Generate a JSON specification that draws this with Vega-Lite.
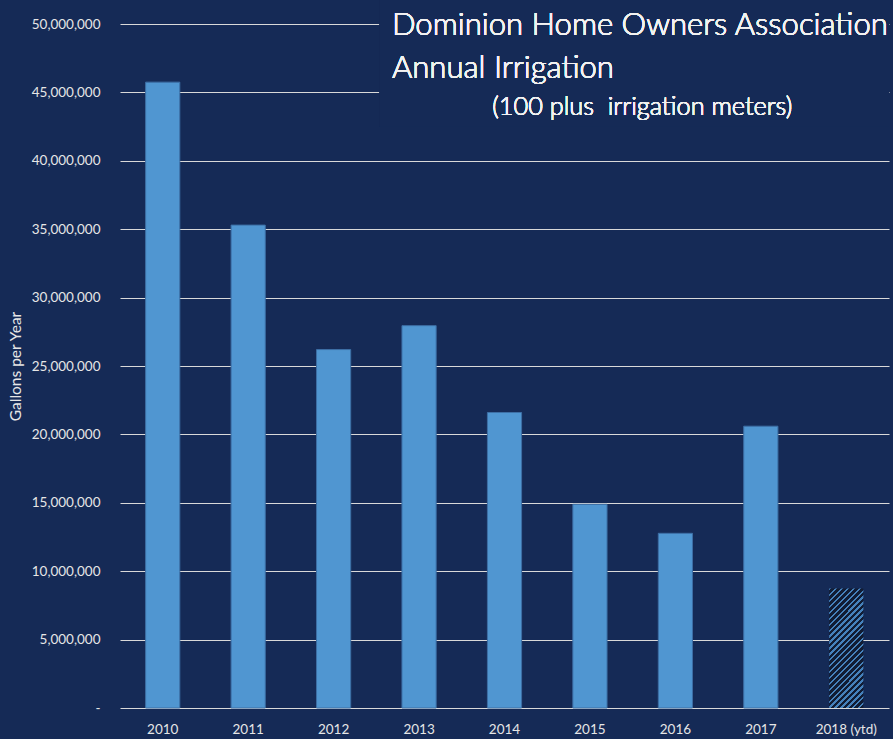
{
  "$schema": "https://vega.github.io/schema/vega-lite/v6.json",
  "width": 769,
  "height": 684,
  "autosize": {"type": "none"},
  "padding": {"left": 120, "top": 24, "right": 4, "bottom": 31},
  "background": "#152a56",
  "config": {"view": {"stroke": null}, "font": "Lato"},
  "data": {
    "values": [
      {"year": "2010", "gallons": 45750000},
      {"year": "2011", "gallons": 35300000},
      {"year": "2012", "gallons": 26200000},
      {"year": "2013", "gallons": 27950000},
      {"year": "2014", "gallons": 21600000},
      {"year": "2015", "gallons": 14890000},
      {"year": "2016", "gallons": 12770000},
      {"year": "2017", "gallons": 20600000},
      {"year": "2018 (ytd)", "gallons": 8740000}
    ]
  },
  "layer": [
    {
      "mark": {"type": "bar", "strokeWidth": 1},
      "encoding": {
        "x": {
          "field": "year",
          "type": "ordinal",
          "sort": null,
          "scale": {"paddingInner": 0.6, "paddingOuter": 0.3},
          "axis": {
            "title": null,
            "labelAngle": 0,
            "labelColor": "#e6e6e6",
            "labelFont": "Lato",
            "labelFontSize": 13.5,
            "labelPadding": 14,
            "ticks": false,
            "domain": false
          }
        },
        "y": {
          "field": "gallons",
          "type": "quantitative",
          "scale": {"domain": [0, 50000000]},
          "axis": {
            "title": "Gallons per Year",
            "titleFont": "Lato",
            "titleFontSize": 15.5,
            "titleFontWeight": "normal",
            "titleColor": "#e6e6e6",
            "titlePadding": 8,
            "labelColor": "#e6e6e6",
            "labelFont": "Lato",
            "labelFontSize": 13.5,
            "labelPadding": 20,
            "ticks": false,
            "domain": false,
            "grid": true,
            "gridColor": "#d9d9d9",
            "gridWidth": 1,
            "values": [0, 5000000, 10000000, 15000000, 20000000, 25000000, 30000000, 35000000, 40000000, 45000000, 50000000],
            "labelExpr": "datum.value === 0 ? '-\u00a0\u00a0' : format(datum.value, ',')"
          }
        },
        "fill": {
          "condition": {
            "test": "datum.year === '2018 (ytd)'",
            "value": {
              "gradient": "linear",
              "x1": 0, "y1": 0, "x2": 0.3405, "y2": 1.189,
              "stops": [
                {"offset": 0, "color": "#4581bb"}, {"offset": 0.0154, "color": "#4581bb"}, {"offset": 0.0154, "color": "#111c33"}, {"offset": 0.0385, "color": "#111c33"},
                {"offset": 0.0385, "color": "#4581bb"}, {"offset": 0.0539, "color": "#4581bb"}, {"offset": 0.0539, "color": "#111c33"}, {"offset": 0.0769, "color": "#111c33"},
                {"offset": 0.0769, "color": "#4581bb"}, {"offset": 0.0923, "color": "#4581bb"}, {"offset": 0.0923, "color": "#111c33"}, {"offset": 0.1154, "color": "#111c33"},
                {"offset": 0.1154, "color": "#4581bb"}, {"offset": 0.1308, "color": "#4581bb"}, {"offset": 0.1308, "color": "#111c33"}, {"offset": 0.1538, "color": "#111c33"},
                {"offset": 0.1538, "color": "#4581bb"}, {"offset": 0.1692, "color": "#4581bb"}, {"offset": 0.1692, "color": "#111c33"}, {"offset": 0.1923, "color": "#111c33"},
                {"offset": 0.1923, "color": "#4581bb"}, {"offset": 0.2077, "color": "#4581bb"}, {"offset": 0.2077, "color": "#111c33"}, {"offset": 0.2308, "color": "#111c33"},
                {"offset": 0.2308, "color": "#4581bb"}, {"offset": 0.2462, "color": "#4581bb"}, {"offset": 0.2462, "color": "#111c33"}, {"offset": 0.2692, "color": "#111c33"},
                {"offset": 0.2692, "color": "#4581bb"}, {"offset": 0.2846, "color": "#4581bb"}, {"offset": 0.2846, "color": "#111c33"}, {"offset": 0.3077, "color": "#111c33"},
                {"offset": 0.3077, "color": "#4581bb"}, {"offset": 0.3231, "color": "#4581bb"}, {"offset": 0.3231, "color": "#111c33"}, {"offset": 0.3462, "color": "#111c33"},
                {"offset": 0.3462, "color": "#4581bb"}, {"offset": 0.3616, "color": "#4581bb"}, {"offset": 0.3616, "color": "#111c33"}, {"offset": 0.3846, "color": "#111c33"},
                {"offset": 0.3846, "color": "#4581bb"}, {"offset": 0.4, "color": "#4581bb"}, {"offset": 0.4, "color": "#111c33"}, {"offset": 0.4231, "color": "#111c33"},
                {"offset": 0.4231, "color": "#4581bb"}, {"offset": 0.4385, "color": "#4581bb"}, {"offset": 0.4385, "color": "#111c33"}, {"offset": 0.4615, "color": "#111c33"},
                {"offset": 0.4615, "color": "#4581bb"}, {"offset": 0.4769, "color": "#4581bb"}, {"offset": 0.4769, "color": "#111c33"}, {"offset": 0.5, "color": "#111c33"},
                {"offset": 0.5, "color": "#4581bb"}, {"offset": 0.5154, "color": "#4581bb"}, {"offset": 0.5154, "color": "#111c33"}, {"offset": 0.5385, "color": "#111c33"},
                {"offset": 0.5385, "color": "#4581bb"}, {"offset": 0.5539, "color": "#4581bb"}, {"offset": 0.5539, "color": "#111c33"}, {"offset": 0.5769, "color": "#111c33"},
                {"offset": 0.5769, "color": "#4581bb"}, {"offset": 0.5923, "color": "#4581bb"}, {"offset": 0.5923, "color": "#111c33"}, {"offset": 0.6154, "color": "#111c33"},
                {"offset": 0.6154, "color": "#4581bb"}, {"offset": 0.6308, "color": "#4581bb"}, {"offset": 0.6308, "color": "#111c33"}, {"offset": 0.6538, "color": "#111c33"},
                {"offset": 0.6538, "color": "#4581bb"}, {"offset": 0.6692, "color": "#4581bb"}, {"offset": 0.6692, "color": "#111c33"}, {"offset": 0.6923, "color": "#111c33"},
                {"offset": 0.6923, "color": "#4581bb"}, {"offset": 0.7077, "color": "#4581bb"}, {"offset": 0.7077, "color": "#111c33"}, {"offset": 0.7308, "color": "#111c33"},
                {"offset": 0.7308, "color": "#4581bb"}, {"offset": 0.7462, "color": "#4581bb"}, {"offset": 0.7462, "color": "#111c33"}, {"offset": 0.7692, "color": "#111c33"},
                {"offset": 0.7692, "color": "#4581bb"}, {"offset": 0.7846, "color": "#4581bb"}, {"offset": 0.7846, "color": "#111c33"}, {"offset": 0.8077, "color": "#111c33"},
                {"offset": 0.8077, "color": "#4581bb"}, {"offset": 0.8231, "color": "#4581bb"}, {"offset": 0.8231, "color": "#111c33"}, {"offset": 0.8462, "color": "#111c33"},
                {"offset": 0.8462, "color": "#4581bb"}, {"offset": 0.8616, "color": "#4581bb"}, {"offset": 0.8616, "color": "#111c33"}, {"offset": 0.8846, "color": "#111c33"},
                {"offset": 0.8846, "color": "#4581bb"}, {"offset": 0.9, "color": "#4581bb"}, {"offset": 0.9, "color": "#111c33"}, {"offset": 0.9231, "color": "#111c33"},
                {"offset": 0.9231, "color": "#4581bb"}, {"offset": 0.9385, "color": "#4581bb"}, {"offset": 0.9385, "color": "#111c33"}, {"offset": 0.9615, "color": "#111c33"},
                {"offset": 0.9615, "color": "#4581bb"}, {"offset": 0.9769, "color": "#4581bb"}, {"offset": 0.9769, "color": "#111c33"}, {"offset": 1, "color": "#111c33"}
              ]
            }
          },
          "value": "#5096d1"
        },
        "stroke": {
          "condition": {"test": "datum.year === '2018 (ytd)'", "value": null},
          "value": "#3d6fa5"
        }
      }
    },
    {
      "mark": {"type": "rect", "fill": "#152a56"},
      "encoding": {
        "x": {"datum": "2013", "bandPosition": -0.65},
        "x2": {"value": "width"},
        "y": {"datum": 42500000},
        "y2": {"datum": 51800000}
      }
    },
    {
      "mark": {"type": "text", "align": "left", "baseline": "alphabetic", "font": "Lato", "fontWeight": 300, "fontSize": 31.1, "fill": "#f2f2f2", "dx": -10, "dy": 11},
      "encoding": {
        "x": {"datum": "2013", "bandPosition": 0},
        "y": {"datum": 50000000},
        "text": {"value": "Dominion Home Owners Association"}
      }
    },
    {
      "mark": {"type": "text", "align": "left", "baseline": "alphabetic", "font": "Lato", "fontWeight": 300, "fontSize": 31.1, "fill": "#f2f2f2", "dx": -10, "dy": 54},
      "encoding": {
        "x": {"datum": "2013", "bandPosition": 0},
        "y": {"datum": 50000000},
        "text": {"value": "Annual Irrigation"}
      }
    },
    {
      "mark": {"type": "text", "align": "center", "baseline": "alphabetic", "font": "Lato", "fontWeight": 300, "fontSize": 25.3, "fill": "#f2f2f2", "dx": -16, "dy": 91},
      "encoding": {
        "x": {"datum": "2016", "bandPosition": 0},
        "y": {"datum": 50000000},
        "text": {"value": "(100 plus \u00a0irrigation meters)"}
      }
    }
  ]
}
